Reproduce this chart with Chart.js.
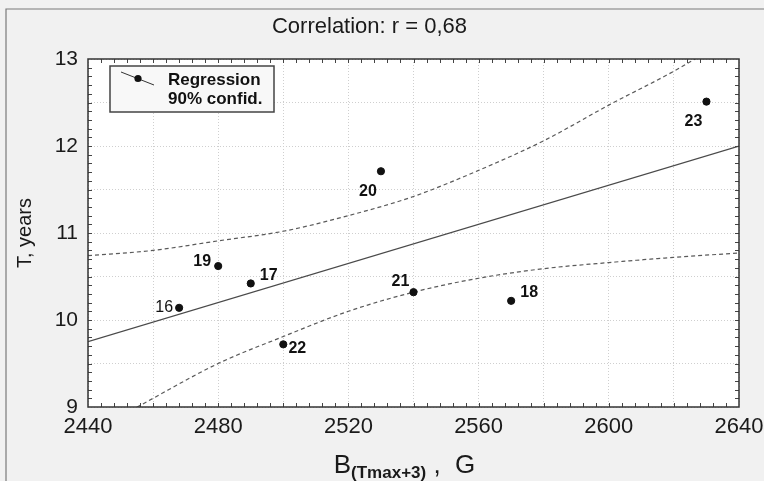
<!DOCTYPE html>
<html>
<head>
<meta charset="utf-8">
<script src="https://cdn.jsdelivr.net/npm/chart.js@4.4.1/dist/chart.umd.min.js"></script>
<style>
  html, body { margin: 0; padding: 0; background: #f1f1f1; }
  #wrap { width: 764px; height: 481px; }
</style>
</head>
<body>
<div id="wrap"><canvas id="c" width="764" height="481"></canvas></div>
<script>
// ---- data ----
const pointNames = ['16', '17', '18', '19', '20', '21', '22', '23'];
const pointX = [2468, 2490, 2570, 2480, 2530, 2540, 2500, 2630];
const pointY = [10.14, 10.42, 10.22, 10.62, 11.71, 10.32, 9.72, 12.51];

const regressionX = [2440, 2640];
const regressionY = [9.75, 12.0];

const bandX = [2440, 2460, 2480, 2500, 2520, 2540, 2560, 2580, 2600, 2620, 2640];
const upperBand = [10.74, 10.80, 10.91, 11.02, 11.20, 11.42, 11.72, 12.06, 12.47, 12.86, 13.30];
const lowerBand = [8.68, 9.10, 9.50, 9.81, 10.10, 10.32, 10.48, 10.59, 10.66, 10.72, 10.77];

const xTickStep = 20, xLabelStep = 40, xMin = 2440, xMax = 2640;
const yTickStep = 0.5, yMin = 9, yMax = 13;

const titleText = 'Correlation: r = 0,68';
const yTitleText = 'T, years';
const xTitleMain = 'B', xTitleSub = '(Tmax+3)', xTitleTail = ' ,  G';
const legendLines = ['Regression', '90% confid.'];

// label placement (style only): offsets from point centre in px, and weight
const labelOffsets = [[-15, 0], [18, -8], [18, -8], [-16, -4], [-13, 20], [-13, -11], [14, 4], [-13, 20]];
const labelWeights = ['normal', 'bold', 'bold', 'bold', 'bold', 'bold', 'bold', 'bold'];

const FONT = "'Liberation Sans', Arial, sans-serif";

const toXY = (xs, ys) => xs.map((x, i) => ({ x: x, y: ys[i] }));

const framePlugin = {
  id: 'frame',
  beforeDraw(chart) {
    const { ctx, chartArea: a } = chart;
    ctx.save();
    ctx.fillStyle = '#f1f1f1';
    ctx.fillRect(0, 0, chart.width, chart.height);
    ctx.strokeStyle = '#7a7a7a';
    ctx.lineWidth = 1.2;
    ctx.beginPath();
    ctx.moveTo(6, chart.height);
    ctx.lineTo(6, 9);
    ctx.lineTo(chart.width, 9);
    ctx.stroke();
    ctx.fillStyle = '#ffffff';
    ctx.fillRect(a.left, a.top, a.right - a.left, a.bottom - a.top);
    ctx.restore();
  },
  afterDraw(chart) {
    const { ctx, chartArea: a, scales } = chart;
    const xs = scales.x, ys = scales.y;
    ctx.save();
    // minor ticks
    ctx.strokeStyle = '#444';
    ctx.lineWidth = 1;
    ctx.beginPath();
    for (let v = xMin + 4; v < xMax; v += 4) {
      const px = Math.round(xs.getPixelForValue(v)) + 0.5;
      ctx.moveTo(px, a.bottom); ctx.lineTo(px, a.bottom - 4);
      ctx.moveTo(px, a.top); ctx.lineTo(px, a.top + 4);
    }
    for (let k = 1; k < 40; k++) {
      const v = yMin + k * 0.1;
      const py = Math.round(ys.getPixelForValue(v)) + 0.5;
      ctx.moveTo(a.left, py); ctx.lineTo(a.left + 4, py);
      ctx.moveTo(a.right, py); ctx.lineTo(a.right - 4, py);
    }
    ctx.stroke();
    // plot frame
    ctx.strokeStyle = '#333';
    ctx.lineWidth = 1.5;
    ctx.strokeRect(a.left, a.top, a.right - a.left, a.bottom - a.top);

    // point labels
    ctx.fillStyle = '#111';
    ctx.textAlign = 'center';
    ctx.textBaseline = 'middle';
    pointNames.forEach((n, i) => {
      const px = xs.getPixelForValue(pointX[i]);
      const py = ys.getPixelForValue(pointY[i]);
      ctx.font = labelWeights[i] + ' 16px ' + FONT;
      ctx.fillText(n, px + labelOffsets[i][0], py + labelOffsets[i][1]);
    });

    // legend box
    const lx = 110, ly = 66, lw = 164, lh = 46;
    ctx.fillStyle = '#f8f8f8';
    ctx.fillRect(lx, ly, lw, lh);
    ctx.strokeStyle = '#444';
    ctx.lineWidth = 1.5;
    ctx.strokeRect(lx, ly, lw, lh);
    ctx.strokeStyle = '#333';
    ctx.lineWidth = 1;
    ctx.beginPath();
    ctx.moveTo(121, 72); ctx.lineTo(154, 85);
    ctx.stroke();
    ctx.fillStyle = '#111';
    ctx.beginPath();
    ctx.arc(138, 78.5, 3.6, 0, Math.PI * 2);
    ctx.fill();
    ctx.font = 'bold 17px ' + FONT;
    ctx.textAlign = 'left';
    ctx.textBaseline = 'middle';
    ctx.fillText(legendLines[0], 168, 80);
    ctx.fillText(legendLines[1], 168, 99);

    // x axis title with subscript
    ctx.fillStyle = '#1a1a1a';
    ctx.textBaseline = 'alphabetic';
    const fMain = '26px ' + FONT, fSub = 'bold 17px ' + FONT;
    ctx.font = fMain; const w1 = ctx.measureText(xTitleMain).width;
    ctx.font = fSub; const w2 = ctx.measureText(xTitleSub).width;
    ctx.font = fMain; const w3 = ctx.measureText(xTitleTail).width;
    const total = w1 + w2 + w3;
    let sx = (a.left + a.right) / 2 - 9 - total / 2;
    const base = 473;
    ctx.font = fMain; ctx.fillText(xTitleMain, sx, base); sx += w1;
    ctx.font = fSub; ctx.fillText(xTitleSub, sx, base + 5); sx += w2;
    ctx.font = fMain; ctx.fillText(xTitleTail, sx, base);
    ctx.restore();
  }
};

new Chart(document.getElementById('c'), {
  type: 'scatter',
  data: {
    datasets: [
      {
        label: 'Points',
        data: toXY(pointX, pointY),
        backgroundColor: '#111',
        borderColor: '#111',
        pointRadius: 3.6,
        pointHoverRadius: 3.6,
        showLine: false,
        order: 0
      },
      {
        label: 'Regression',
        data: toXY(regressionX, regressionY),
        showLine: true,
        borderColor: '#4a4a4a',
        borderWidth: 1.3,
        pointRadius: 0,
        fill: false,
        order: 1
      },
      {
        label: '90% confid. upper',
        data: toXY(bandX, upperBand),
        showLine: true,
        borderColor: '#5a5a5a',
        borderWidth: 1.2,
        borderDash: [4, 3],
        pointRadius: 0,
        cubicInterpolationMode: 'monotone',
        fill: false,
        order: 2
      },
      {
        label: '90% confid. lower',
        data: toXY(bandX, lowerBand),
        showLine: true,
        borderColor: '#5a5a5a',
        borderWidth: 1.2,
        borderDash: [4, 3],
        pointRadius: 0,
        cubicInterpolationMode: 'monotone',
        fill: false,
        order: 2
      }
    ]
  },
  options: {
    responsive: false,
    animation: false,
    devicePixelRatio: 1,
    layout: { padding: { left: 0, right: 25, top: 0, bottom: 0 } },
    plugins: {
      legend: { display: false },
      tooltip: { enabled: false },
      title: {
        display: true,
        text: titleText,
        color: '#1a1a1a',
        font: { family: FONT, size: 22, weight: 'normal', lineHeight: 1.2 },
        padding: { top: 14, bottom: 18.6 }
      }
    },
    scales: {
      x: {
        type: 'linear',
        min: xMin, max: xMax,
        afterFit(s) { s.height = 74; s.paddingLeft = 0; s.paddingRight = 0; },
        grid: { color: '#cfcfcf', lineWidth: 1, drawTicks: false },
        border: { display: false, dash: [1, 2] },
        ticks: {
          stepSize: xTickStep,
          autoSkip: false,
          maxRotation: 0,
          padding: 7,
          color: '#1a1a1a',
          font: { family: FONT, size: 22 },
          callback: (v) => ((v - xMin) % xLabelStep === 0 ? String(v) : '')
        }
      },
      y: {
        type: 'linear',
        min: yMin, max: yMax,
        afterFit(s) { s.width = 88; s.paddingTop = 0; s.paddingBottom = 0; },
        grid: { color: '#cfcfcf', lineWidth: 1, drawTicks: false },
        border: { display: false, dash: [1, 2] },
        title: {
          display: true,
          text: yTitleText,
          color: '#1a1a1a',
          font: { family: FONT, size: 20, lineHeight: 1.2 },
          padding: { top: 13, bottom: 0 }
        },
        ticks: {
          stepSize: yTickStep,
          autoSkip: false,
          padding: 10,
          color: '#1a1a1a',
          font: { family: FONT, size: 21 },
          callback: (v) => (Number.isInteger(v) ? String(v) : '')
        }
      }
    }
  },
  plugins: [framePlugin]
});
</script>
</body>
</html>
